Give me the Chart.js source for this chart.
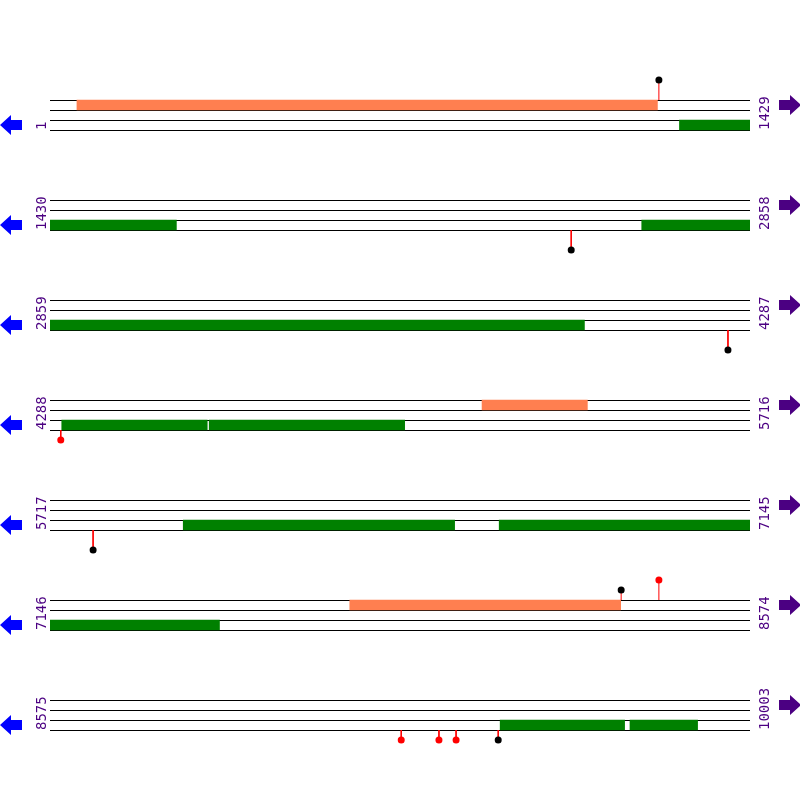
<!DOCTYPE html>
<html>
<head>
<meta charset="utf-8">
<script src="https://cdn.jsdelivr.net/npm/chart.js@4"></script>
<style>body{margin:0;background:#fff}</style>
</head>
<body>
<canvas id="c" width="800" height="800"></canvas>
<script>
// map data: 7 rows of 1429 bp each
const rowLen = 1429;
const rowStarts = [1, 1430, 2859, 4288, 5717, 7146, 8575];
const rowEnds = [1429, 2858, 4287, 5716, 7145, 8574, 10003];
// forward strand features (orange), absolute bp [start, end]
const fwdFeatures = [[56, 1240], [5170, 5384], [7758, 8310]];
// reverse strand features (green)
const revFeatures = [[1286, 1429], [1430, 1687], [2638, 2858], [2859, 3949],
  [4312, 4608], [4613, 5011], [5989, 6542], [6634, 7145], [7146, 7491],
  [9494, 9747], [9759, 9896]];
// sites: position, above (1) / below (-1), stem length, dot colour
const sitePos = [1244, 2494, 4243, 4310, 5805, 8312, 8389, 9292, 9369, 9404, 9490];
const siteSide = [1, -1, -1, -1, -1, 1, 1, -1, -1, -1, -1];
const siteLen = [20, 20, 20, 10, 20, 10, 20, 10, 10, 10, 10];
const siteColor = ['black', 'black', 'black', 'red', 'black', 'black', 'red', 'red', 'red', 'red', 'black'];

const rowTop = i => 100 + 100 * i;
const rowOf = bp => Math.min(rowStarts.length - 1, Math.floor((bp - 1) / rowLen));
const off = bp => bp - rowStarts[rowOf(bp)];

const datasets = [];
// backbone lines (half-pixel shift keeps them crisp)
rowStarts.forEach((s, i) => {
  for (let k = 0; k < 4; k++) {
    const yy = rowTop(i) + 10 * k + 0.5;
    datasets.push({type: 'line', data: [{x: 0, y: yy}, {x: rowEnds[i] - s + 1, y: yy}],
      borderColor: 'black', borderWidth: 1, pointRadius: 0, order: 2});
  }
});
function featureBars(list, lane, color) {
  datasets.push({type: 'bar', data: list.map(f => ({x: [off(f[0]), off(f[1]) + 1], y: rowTop(rowOf(f[0])) + lane})),
    backgroundColor: color, barThickness: 10, grouped: false, order: 1});
}
featureBars(fwdFeatures, 5, '#ff7f50');
featureBars(revFeatures, 25, 'green');
sitePos.forEach((p, i) => {
  const r = rowOf(p);
  const base = siteSide[i] > 0 ? rowTop(r) : rowTop(r) + 30;
  const tip = base - siteSide[i] * siteLen[i];
  datasets.push({type: 'line', data: [{x: off(p), y: base}, {x: off(p), y: tip}],
    borderColor: 'red', borderWidth: 1, pointRadius: [0, 3.5],
    pointBackgroundColor: siteColor[i], pointBorderWidth: 0, order: 0});
});

const labelsPlugin = {
  id: 'labels',
  afterDraw(chart) {
    const ctx = chart.ctx, y = chart.scales.y, x = chart.scales.x;
    ctx.save();
    ctx.font = '14px "DejaVu Sans Mono"';
    ctx.textBaseline = 'middle';
    ctx.textAlign = 'left';
    rowStarts.forEach((s, i) => {
      ctx.fillStyle = '#4b0082';
      const yb = y.getPixelForValue(rowTop(i) + 30);
      [[x.left - 8, s], [x.right + 15, rowEnds[i]]].forEach(([px, t]) => {
        ctx.save();
        ctx.translate(px, yb);
        ctx.rotate(-Math.PI / 2);
        ctx.fillText(String(t), 0, 0);
        ctx.restore();
      });
      // strand arrows
      const ya = y.getPixelForValue(rowTop(i) + 25);
      ctx.fillStyle = 'blue';
      ctx.beginPath();
      ctx.moveTo(0, ya); ctx.lineTo(11, ya - 10); ctx.lineTo(11, ya - 5); ctx.lineTo(22, ya - 5);
      ctx.lineTo(22, ya + 5); ctx.lineTo(11, ya + 5); ctx.lineTo(11, ya + 10); ctx.closePath(); ctx.fill();
      const yr = y.getPixelForValue(rowTop(i) + 5);
      ctx.fillStyle = '#4b0082';
      ctx.beginPath();
      ctx.moveTo(801, yr); ctx.lineTo(790, yr - 10); ctx.lineTo(790, yr - 5); ctx.lineTo(779, yr - 5);
      ctx.lineTo(779, yr + 5); ctx.lineTo(790, yr + 5); ctx.lineTo(790, yr + 10); ctx.closePath(); ctx.fill();
    });
    ctx.restore();
  }
};

new Chart(document.getElementById('c'), {
  type: 'bar',
  data: {datasets},
  options: {
    responsive: false, animation: false, indexAxis: 'y',
    layout: {autoPadding: false, padding: {left: 50, right: 50, top: 0, bottom: 0}},
    scales: {
      x: {type: 'linear', min: 0, max: rowLen, display: false, offset: false},
      y: {type: 'linear', min: 0, max: 800, reverse: true, display: false, offset: false}
    },
    plugins: {legend: {display: false}, tooltip: {enabled: false}}
  },
  plugins: [labelsPlugin]
});
</script>
</body>
</html>
